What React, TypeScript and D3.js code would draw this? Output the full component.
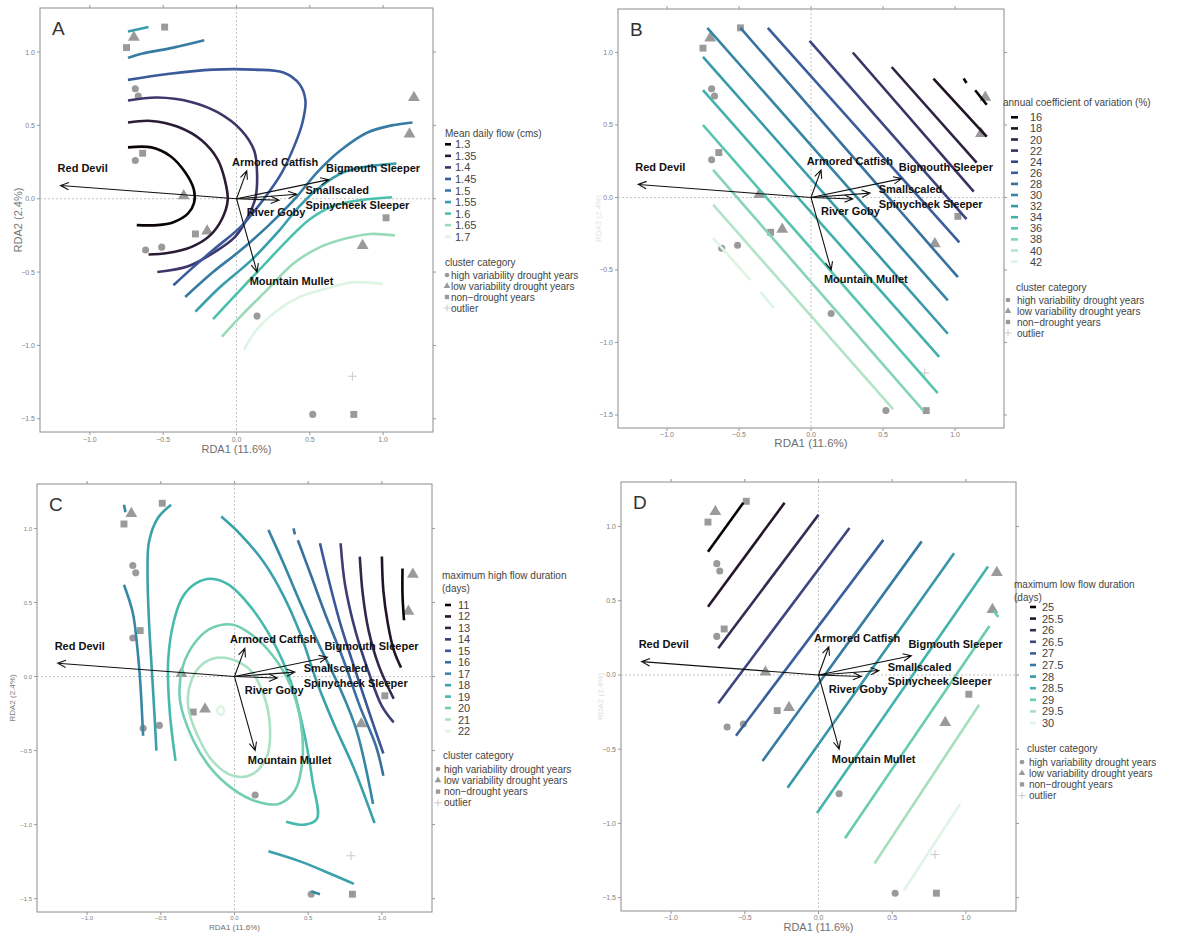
import React from "react";
import * as d3 from "d3";

// site scores by cluster category
const siteHigh = [[-0.69, 0.75], [-0.67, 0.7], [-0.69, 0.26], [-0.62, -0.35], [-0.51, -0.33], [0.14, -0.8], [0.52, -1.47]];
const siteLow = [[-0.7, 1.1], [1.21, 0.69], [1.18, 0.44], [0.86, -0.32], [-0.2, -0.22], [-0.36, 0.02]];
const siteNon = [[-0.49, 1.17], [-0.75, 1.03], [-0.64, 0.31], [1.02, -0.13], [-0.28, -0.24], [0.8, -1.47]];
const siteOutlier = [[0.79, -1.21]];

// species scores (arrow tips) and label anchors
const speciesNames = ["Red Devil", "Armored Catfish", "Bigmouth Sleeper", "Smallscaled\nSpinycheek Sleeper", "River Goby", "Mountain Mullet"];
const speciesScores = [[-1.2, 0.09], [0.07, 0.19], [0.63, 0.13], [0.41, 0.03], [0.29, -0.01], [0.14, -0.5]];
const speciesLabelAt = [[-1.22, 0.18], [-0.03, 0.225], [0.61, 0.18], [0.47, 0.03], [0.07, -0.12], [0.09, -0.59]];

// A: mean daily flow surface
const flowLevels = [1.3, 1.35, 1.4, 1.45, 1.5, 1.55, 1.6, 1.65, 1.7];
const flowContours = [
  { level: 1.3, pts: [[-0.74, 0.35], [-0.58, 0.35], [-0.45, 0.29], [-0.35, 0.18], [-0.29, 0.06], [-0.29, -0.03], [-0.33, -0.1], [-0.43, -0.16], [-0.54, -0.18], [-0.68, -0.18]] },
  { level: 1.35, pts: [[-0.74, 0.52], [-0.58, 0.53], [-0.4, 0.49], [-0.24, 0.4], [-0.13, 0.27], [-0.08, 0.13], [-0.06, -0.01], [-0.1, -0.14], [-0.18, -0.25], [-0.31, -0.33], [-0.47, -0.37], [-0.6, -0.38]] },
  { level: 1.4, pts: [[-0.74, 0.67], [-0.54, 0.69], [-0.31, 0.66], [-0.13, 0.59], [0.03, 0.47], [0.12, 0.33], [0.14, 0.18], [0.13, 0.01], [0.08, -0.12], [-0.01, -0.26], [-0.16, -0.37], [-0.33, -0.46], [-0.54, -0.5]] },
  { level: 1.45, pts: [[-0.74, 0.81], [-0.47, 0.85], [-0.16, 0.88], [0.12, 0.88], [0.32, 0.86], [0.43, 0.78], [0.47, 0.67], [0.45, 0.52], [0.39, 0.35], [0.31, 0.18], [0.18, -0.01], [0.03, -0.19], [-0.16, -0.35], [-0.31, -0.48], [-0.43, -0.59]] },
  { level: 1.5, pts: [[-0.74, 0.96], [-0.64, 0.99], [-0.43, 1.03], [-0.22, 1.08]] },
  { level: 1.5, pts: [[-0.35, -0.67], [-0.16, -0.5], [0.03, -0.35], [0.21, -0.19], [0.39, -0.01], [0.55, 0.18], [0.71, 0.33], [0.89, 0.45], [1.06, 0.5], [1.2, 0.52]] },
  { level: 1.55, pts: [[-0.74, 1.14], [-0.6, 1.17]] },
  { level: 1.55, pts: [[-0.28, -0.77], [-0.11, -0.6], [0.1, -0.42], [0.28, -0.23], [0.43, -0.05], [0.57, 0.08], [0.73, 0.18], [0.89, 0.22], [1.09, 0.24]] },
  { level: 1.6, pts: [[-0.16, -0.82], [-0.02, -0.67], [0.16, -0.48], [0.35, -0.28], [0.5, -0.14], [0.66, -0.05], [0.84, -0.01], [1.06, 0.01]] },
  { level: 1.65, pts: [[-0.1, -0.94], [0.03, -0.8], [0.21, -0.62], [0.39, -0.44], [0.57, -0.33], [0.75, -0.27], [0.91, -0.24], [1.08, -0.25]] },
  { level: 1.7, pts: [[0.05, -1.03], [0.14, -0.89], [0.28, -0.76], [0.43, -0.67], [0.62, -0.61], [0.79, -0.57], [1.0, -0.58]] },
];

// B: annual coefficient of variation surface
const cvLevels = [16, 18, 20, 22, 24, 26, 28, 30, 32, 34, 36, 38, 40, 42];
const cvContours = [
  { level: 16, pts: [[1.06, 0.82], [1.08, 0.79]] },
  { level: 16, pts: [[1.14, 0.74], [1.22, 0.64]] },
  { level: 18, pts: [[0.85, 0.82], [1.22, 0.42]] },
  { level: 20, pts: [[0.56, 0.9], [1.15, 0.24]] },
  { level: 22, pts: [[0.29, 1.0], [1.13, 0.04]] },
  { level: 24, pts: [[-0.01, 1.08], [1.08, -0.15]] },
  { level: 26, pts: [[-0.3, 1.17], [1.03, -0.31]] },
  { level: 28, pts: [[-0.49, 1.17], [1.02, -0.55]] },
  { level: 30, pts: [[-0.72, 1.17], [0.95, -0.71]] },
  { level: 32, pts: [[-0.75, 0.97], [0.95, -0.94]] },
  { level: 34, pts: [[-0.75, 0.74], [0.89, -1.1]] },
  { level: 36, pts: [[-0.75, 0.5], [0.88, -1.35]] },
  { level: 38, pts: [[-0.68, 0.19], [0.78, -1.47]] },
  { level: 40, pts: [[-0.68, -0.05], [0.57, -1.46]] },
  { level: 42, pts: [[-0.68, -0.28], [-0.42, -0.57]] },
  { level: 42, pts: [[-0.35, -0.65], [-0.26, -0.76]] },
];

// C: maximum high flow duration surface
const highLevels = [11, 12, 13, 14, 15, 16, 17, 18, 19, 20, 21, 22];
const highContours = [
  { level: 11, pts: [[1.14, 0.73], [1.14, 0.55], [1.15, 0.38]] },
  { level: 12, pts: [[1.0, 0.81], [1.01, 0.58], [1.04, 0.36], [1.08, 0.18], [1.13, 0.06]] },
  { level: 13, pts: [[0.85, 0.81], [0.87, 0.56], [0.91, 0.31], [0.98, 0.07], [1.08, -0.15]] },
  { level: 14, pts: [[0.72, 0.9], [0.75, 0.62], [0.82, 0.31], [0.91, 0.03], [1.0, -0.2], [1.08, -0.31]] },
  { level: 15, pts: [[0.58, 0.9], [0.64, 0.65], [0.72, 0.35], [0.82, 0.04], [0.92, -0.26], [1.01, -0.52]] },
  { level: 16, pts: [[0.4, 1.0], [0.41, 0.96]] },
  { level: 16, pts: [[0.43, 0.92], [0.52, 0.68], [0.62, 0.41], [0.74, 0.11], [0.85, -0.2], [0.96, -0.47], [1.01, -0.67]] },
  { level: 17, pts: [[0.23, 0.99], [0.33, 0.77], [0.45, 0.49], [0.58, 0.2], [0.72, -0.09], [0.83, -0.37], [0.94, -0.86]] },
  { level: 17, pts: [[-0.75, 1.16], [-0.74, 1.11]] },
  { level: 17, pts: [[-0.75, 0.62], [-0.69, 0.43], [-0.66, 0.2], [-0.64, -0.03], [-0.62, -0.4]] },
  { level: 17, pts: [[0.52, -1.45], [0.58, -1.47]] },
  { level: 18, pts: [[-0.09, 1.08], [0.04, 0.96], [0.2, 0.77], [0.33, 0.55], [0.45, 0.28], [0.56, -0.04], [0.67, -0.31], [0.81, -0.62], [0.95, -0.99]] },
  { level: 18, pts: [[-0.43, 1.16], [-0.52, 1.07], [-0.58, 0.91], [-0.59, 0.71], [-0.58, 0.37], [-0.56, 0.03], [-0.54, -0.31], [-0.53, -0.5]] },
  { level: 18, pts: [[0.23, -1.18], [0.45, -1.25], [0.67, -1.34], [0.81, -1.4]] },
  { level: 19, pts: [[-0.4, -0.57], [-0.44, -0.23], [-0.45, 0.11], [-0.41, 0.38], [-0.35, 0.54], [-0.26, 0.63], [-0.16, 0.66], [-0.04, 0.62], [0.11, 0.47], [0.26, 0.24], [0.38, -0.03], [0.47, -0.37], [0.53, -0.71], [0.56, -0.96], [0.48, -1.0], [0.35, -0.98]] },
  { level: 20, closed: true, pts: [[-0.37, -0.16], [-0.35, 0.07], [-0.26, 0.24], [-0.15, 0.33], [-0.01, 0.35], [0.12, 0.28], [0.26, 0.14], [0.38, -0.06], [0.45, -0.31], [0.46, -0.57], [0.41, -0.77], [0.3, -0.86], [0.14, -0.84], [-0.01, -0.76], [-0.16, -0.62], [-0.28, -0.43]] },
  { level: 21, closed: true, pts: [[-0.31, -0.09], [-0.25, 0.05], [-0.15, 0.12], [-0.03, 0.12], [0.11, 0.04], [0.2, -0.13], [0.24, -0.33], [0.22, -0.54], [0.12, -0.66], [-0.01, -0.67], [-0.15, -0.57], [-0.25, -0.4], [-0.31, -0.23]] },
  { level: 22, closed: true, pts: [[-0.12, -0.23], [-0.09, -0.2], [-0.07, -0.23], [-0.09, -0.26]] },
];

// D: maximum low flow duration surface
const lowLevels = [25, 25.5, 26, 26.5, 27, 27.5, 28, 28.5, 29, 29.5, 30];
const lowContours = [
  { level: 25, pts: [[-0.75, 0.83], [-0.51, 1.16]] },
  { level: 25.5, pts: [[-0.75, 0.46], [-0.23, 1.16]] },
  { level: 26, pts: [[-0.68, 0.18], [0.0, 1.08]] },
  { level: 26.5, pts: [[-0.68, -0.19], [0.21, 0.99]] },
  { level: 27, pts: [[-0.56, -0.41], [0.44, 0.91]] },
  { level: 27.5, pts: [[-0.38, -0.58], [0.7, 0.9]] },
  { level: 28, pts: [[-0.21, -0.76], [0.92, 0.82]] },
  { level: 28.5, pts: [[-0.01, -0.93], [1.15, 0.73]] },
  { level: 29, pts: [[0.18, -1.1], [1.16, 0.33]] },
  { level: 29, pts: [[1.19, 0.43], [1.22, 0.39]] },
  { level: 29.5, pts: [[0.38, -1.27], [1.09, -0.2]] },
  { level: 30, pts: [[0.58, -1.45], [0.96, -0.87]] },
];

const xDomain = [-1.34, 1.34];
const yDomain = [-1.59, 1.3];
const xTicks = [-1, -0.5, 0, 0.5, 1];
const yTicks = [1, 0.5, 0, -0.5, -1, -1.5];

// viridis "mako"
const mako = d3.piecewise(d3.interpolateRgb, ["#0B0405", "#2B1C35", "#3E356B", "#3B5A9B", "#357BA2", "#389DAA", "#49C1AD", "#98DAB7", "#DEF5E5"]);

const FONT = "'Liberation Sans', Arial, Helvetica, sans-serif";
const POINT = "#9a9a9a";

const panels = [
  {
    letter: "A", box: { left: 40, top: 8, right: 433, bottom: 432 }, levels: flowLevels, contours: flowContours,
    tick: 7, tickDy: 10, xTitle: { size: 11, dy: 21 }, yTitle: { x: 18, size: 11, color: "#777" },
    legend: { title: ["Mean daily flow (cms)"], titleX: 445, titleY: 133, keyY: 144.3, step: 11.55, dash: [445, 451], labelX: 455, keySize: 11,
      clusterX: 445, clusterY: 262, itemY: 275, itemStep: 11, symX: 447, textX: 451 },
  },
  {
    letter: "B", box: { left: 618, top: 9, right: 1004, bottom: 428 }, levels: cvLevels, contours: cvContours,
    tick: 7, tickDy: 8.5, xTitle: { size: 11.5, dy: 19 }, yTitle: { x: 598, size: 8, color: "#e2e2e2" },
    legend: { title: ["annual coefficient of variation (%)"], titleX: 1003, titleY: 102, keyY: 117.3, step: 11.1, dash: [1011, 1018], labelX: 1030, keySize: 11,
      clusterX: 1016, clusterY: 287, itemY: 300, itemStep: 11, symX: 1008, textX: 1017 },
  },
  {
    letter: "C", box: { left: 37, top: 484, right: 432, bottom: 912 }, levels: highLevels, contours: highContours,
    tick: 6, tickDy: 8, xTitle: { size: 8, dy: 17.5 }, yTitle: { x: 12, size: 8, color: "#777" },
    legend: { title: ["maximum high flow duration", "(days)"], titleX: 442, titleY: 575, keyY: 605, step: 11.45, dash: [445, 451], labelX: 458, keySize: 11,
      clusterX: 443, clusterY: 755, itemY: 769, itemStep: 11.3, symX: 438, textX: 444 },
  },
  {
    letter: "D", box: { left: 621, top: 482, right: 1016, bottom: 911 }, levels: lowLevels, contours: lowContours,
    tick: 7, tickDy: 8.5, xTitle: { size: 11, dy: 20 }, yTitle: { x: 600, size: 8, color: "#dcdcdc" },
    legend: { title: ["maximum low flow duration", "(days)"], titleX: 1014, titleY: 584, keyY: 607, step: 11.6, dash: [1030, 1036], labelX: 1042, keySize: 11,
      clusterX: 1027, clusterY: 748, itemY: 762, itemStep: 11.2, symX: 1022, textX: 1029 },
  },
];

const clusterNames = ["high variability drought years", "low variability drought years", "non\u2212drought years", "outlier"];

function Marker({ kind, cx, cy, size, color }) {
  if (kind === "plus") {
    const h = size / 2;
    return <path d={`M${cx - h},${cy}H${cx + h}M${cx},${cy - h}V${cy + h}`} stroke="#c9c9c9" strokeWidth={1} fill="none" />;
  }
  const type = kind === "circle" ? d3.symbolCircle : kind === "triangle" ? d3.symbolTriangle : d3.symbolSquare;
  const area = kind === "circle" ? size * size * 0.7 : size * size * 0.75;
  return <path transform={`translate(${cx},${cy})`} d={d3.symbol(type, area)()} fill={color} />;
}

function Arrow({ x0, y0, x1, y1 }) {
  const a = Math.atan2(y1 - y0, x1 - x0);
  const len = 9;
  const h1 = [x1 - len * Math.cos(a - 0.42), y1 - len * Math.sin(a - 0.42)];
  const h2 = [x1 - len * Math.cos(a + 0.42), y1 - len * Math.sin(a + 0.42)];
  return (
    <path d={`M${x0},${y0}L${x1},${y1}M${h1[0]},${h1[1]}L${x1},${y1}L${h2[0]},${h2[1]}`} stroke="#111" strokeWidth={1.1} fill="none" />
  );
}

function Panel({ p }) {
  const { box, levels, contours, legend } = p;
  const x = d3.scaleLinear().domain(xDomain).range([box.left, box.right]);
  const y = d3.scaleLinear().domain(yDomain).range([box.bottom, box.top]);
  const colour = d3.scaleSequential(mako).domain([0, levels.length - 1]);
  const open = d3.line().x((d) => x(d[0])).y((d) => y(d[1])).curve(d3.curveCatmullRom.alpha(0.5));
  const closed = d3.line().x((d) => x(d[0])).y((d) => y(d[1])).curve(d3.curveCatmullRomClosed.alpha(0.5));
  const fmt = d3.format(".1f");
  const cx = (box.left + box.right) / 2;
  const cy = (box.top + box.bottom) / 2;

  return (
    <g fontFamily={FONT}>
      <rect x={box.left} y={box.top} width={box.right - box.left} height={box.bottom - box.top} fill="#fff" stroke="#8c8c8c" strokeWidth={1} />
      {/* zero lines */}
      <line x1={x(0)} x2={x(0)} y1={box.top} y2={box.bottom} stroke="#c4c4c4" strokeDasharray="2,2" />
      <line x1={box.left} x2={box.right} y1={y(0)} y2={y(0)} stroke="#c4c4c4" strokeDasharray="2,2" />

      {/* ticks on all four sides */}
      {xTicks.map((t) => (
        <g key={"xt" + t}>
          <line x1={x(t)} x2={x(t)} y1={box.bottom} y2={box.bottom + 3} stroke="#999" />
          <line x1={x(t)} x2={x(t)} y1={box.top} y2={box.top - 3} stroke="#999" />
          <text x={x(t)} y={box.bottom + p.tickDy} fontSize={p.tick} fill="#808080" textAnchor="middle">{fmt(t)}</text>
        </g>
      ))}
      {yTicks.map((t) => (
        <g key={"yt" + t}>
          <line x1={box.left} x2={box.left - 3} y1={y(t)} y2={y(t)} stroke="#999" />
          <line x1={box.right} x2={box.right + 3} y1={y(t)} y2={y(t)} stroke="#999" />
          <text x={box.left - 5} y={y(t) + 2.5} fontSize={p.tick} fill="#808080" textAnchor="end">{fmt(t)}</text>
        </g>
      ))}
      <text x={cx} y={box.bottom + p.xTitle.dy} fontSize={p.xTitle.size} fill="#6f6f6f" textAnchor="middle">RDA1 (11.6%)</text>
      <text transform={`translate(${p.yTitle.x},${cy}) rotate(-90)`} fontSize={p.yTitle.size} fill={p.yTitle.color} textAnchor="middle" dy="0.35em">RDA2 (2.4%)</text>

      {/* sites */}
      {siteHigh.map((d, i) => <Marker key={"h" + i} kind="circle" cx={x(d[0])} cy={y(d[1])} size={7.5} color={POINT} />)}
      {siteLow.map((d, i) => <Marker key={"l" + i} kind="triangle" cx={x(d[0])} cy={y(d[1])} size={9} color={POINT} />)}
      {siteNon.map((d, i) => <Marker key={"n" + i} kind="square" cx={x(d[0])} cy={y(d[1])} size={8} color={POINT} />)}
      {siteOutlier.map((d, i) => <Marker key={"o" + i} kind="plus" cx={x(d[0])} cy={y(d[1])} size={9} color={POINT} />)}

      {/* fitted surface contours */}
      {contours.map((c, i) => (
        <path key={"c" + i} d={(c.closed ? closed : open)(c.pts)} fill="none" stroke={colour(levels.indexOf(c.level))} strokeWidth={2.6} />
      ))}

      {/* species arrows */}
      {speciesScores.map((d, i) => (
        <Arrow key={"a" + i} x0={x(0)} y0={y(0)} x1={x(d[0])} y1={y(d[1])} />
      ))}
      {speciesNames.map((name, i) => (
        <text key={"s" + i} x={x(speciesLabelAt[i][0])} y={y(speciesLabelAt[i][1])} fontSize={11} fontWeight="bold" fill="#111">
          {name.split("\n").map((part, j) => (
            <tspan key={j} x={x(speciesLabelAt[i][0])} dy={j === 0 ? 0 : 14.5}>{part}</tspan>
          ))}
        </text>
      ))}

      <text x={box.left + 12} y={box.top + 27} fontSize={19} fill="#333">{p.letter}</text>

      {/* legend */}
      {legend.title.map((t, i) => (
        <text key={"lt" + i} x={legend.titleX} y={legend.titleY + 3.5 + i * 13} fontSize={10} fill="#444">{t}</text>
      ))}
      {levels.map((lv, i) => (
        <g key={"lk" + i}>
          <line x1={legend.dash[0]} x2={legend.dash[1]} y1={legend.keyY + i * legend.step} y2={legend.keyY + i * legend.step} stroke={colour(i)} strokeWidth={2.6} />
          <text x={legend.labelX} y={legend.keyY + i * legend.step + 4} fontSize={legend.keySize} fill="#444">{lv}</text>
        </g>
      ))}
      <text x={legend.clusterX} y={legend.clusterY + 3.5} fontSize={10} fill="#444">cluster category</text>
      {clusterNames.map((n, i) => {
        const yy = legend.itemY + i * legend.itemStep;
        const kind = ["circle", "triangle", "square", "plus"][i];
        return (
          <g key={"ci" + i}>
            <Marker kind={kind} cx={legend.symX} cy={yy} size={kind === "plus" ? 7 : 5} color={POINT} />
            <text x={legend.textX} y={yy + 3.5} fontSize={10} fill="#444">{n}</text>
          </g>
        );
      })}
    </g>
  );
}

export default function App() {
  return (
    <svg width={1185} height={934} style={{ position: "absolute", left: 0, top: 0, background: "#fff" }}>
      <rect width={1185} height={934} fill="#fff" />
      {panels.map((p) => <Panel key={p.letter} p={p} />)}
    </svg>
  );
}
